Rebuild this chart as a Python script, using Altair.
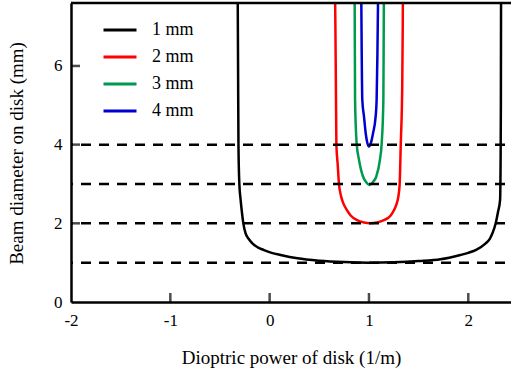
import altair as alt
import pandas as pd

# ---------------- data ----------------
series_names = ["1 mm", "2 mm", "3 mm", "4 mm"]
series_colors = ["#000000", "#ff0000", "#009a4e", "#0000d0"]

p_1mm = [-0.322, -0.318, -0.314, -0.305, -0.292, -0.28, -0.265, -0.242, -0.21, -0.174, -0.12, -0.057,
         0.02, 0.11, 0.28, 0.5, 0.75, 1.0, 1.25, 1.5, 1.72, 1.92, 2.0, 2.074, 2.175, 2.215, 2.243,
         2.276, 2.30, 2.32, 2.325, 2.328, 2.33]
d_1mm = [8.0, 6.0, 4.0, 3.0, 2.59, 2.3, 2.0, 1.746, 1.6, 1.49, 1.39, 1.32,
         1.25, 1.195, 1.11, 1.05, 1.015, 1.0, 1.01, 1.04, 1.085, 1.195, 1.25, 1.32, 1.49, 1.6, 1.746,
         2.0, 2.3, 2.59, 3.5, 5.0, 8.0]

p_2mm = [0.658, 0.662, 0.667, 0.672, 0.685, 0.698, 0.718, 0.743, 0.775, 0.816, 0.88, 0.95, 1.01,
         1.08, 1.15, 1.219, 1.255, 1.279, 1.297, 1.309, 1.32, 1.335, 1.34, 1.342]
d_2mm = [8.0, 7.0, 5.5, 4.0, 3.5, 3.0, 2.7, 2.5, 2.35, 2.2, 2.08, 2.02, 2.0,
         2.02, 2.08, 2.2, 2.35, 2.5, 2.7, 3.0, 4.0, 5.5, 7.0, 8.0]

p_3mm = [0.853, 0.856, 0.860, 0.876, 0.90, 0.94, 0.97, 1.005, 1.04, 1.074, 1.11, 1.128, 1.145, 1.150, 1.152]
d_3mm = [8.0, 7.6, 5.13, 4.03, 3.61, 3.19, 3.05, 2.975, 3.05, 3.19, 3.61, 4.03, 5.13, 7.6, 8.0]

p_4mm = [0.921, 0.923, 0.927, 0.933, 0.950, 0.967, 0.985, 1.0, 1.018, 1.041, 1.067, 1.077, 1.085, 1.091, 1.093]
d_4mm = [8.0, 7.6, 6.3, 5.13, 4.71, 4.29, 4.03, 3.95, 4.03, 4.29, 4.71, 5.13, 6.3, 7.6, 8.0]

dashed_levels = [1, 2, 3, 4]
x_ticks = [-2, -1, 0, 1, 2]
y_ticks = [0, 2, 4, 6]
x_domain = [-2, 2.43]
y_domain = [0, 7.6]

# ---------------- tables ----------------
rows = []
for name, ps, ds in zip(series_names, [p_1mm, p_2mm, p_3mm, p_4mm], [d_1mm, d_2mm, d_3mm, d_4mm]):
    for i, (p, d) in enumerate(zip(ps, ds)):
        rows.append({"series": name, "P": p, "D": d, "order": i})
curves = pd.DataFrame(rows)
levels = pd.DataFrame({"D": dashed_levels})
xt = pd.DataFrame({"P": [v for v in x_ticks if v > x_domain[0]]})
yt = pd.DataFrame({"D": [v for v in y_ticks if v > y_domain[0]]})
top = pd.DataFrame({"D": [y_domain[1]]})

FONT = "'Liberation Serif', 'Times New Roman', Times, serif"

xscale = alt.Scale(domain=x_domain, nice=False, zero=False)
yscale = alt.Scale(domain=y_domain, nice=False, zero=False)

x_axis = alt.Axis(values=x_ticks, labelExpr="'' + datum.value", labelPadding=10,
                  ticks=False, grid=False, domainColor="black", domainWidth=2.5,
                  labelFont=FONT, labelFontSize=17, labelColor="black", labelFlush=False,
                  title="Dioptric power of disk (1/m)",
                  titleFont=FONT, titleFontSize=19, titleFontWeight="normal", titleColor="black",
                  titleX=220, titleY=55, titleBaseline="middle", titleAlign="center", titleAngle=0)
y_axis = alt.Axis(values=y_ticks, labelExpr="'' + datum.value", labelPadding=9, labelBaseline="middle",
                  ticks=False, grid=False, domainColor="black", domainWidth=2.5,
                  labelFont=FONT, labelFontSize=17, labelColor="black", labelFlush=False,
                  title="Beam diameter on disk (mm)",
                  titleFont=FONT, titleFontSize=19, titleFontWeight="normal", titleColor="black",
                  titleAngle=270, titleX=-55, titleY=150, titleBaseline="middle", titleAlign="center")

lines = alt.Chart(curves).mark_line(strokeWidth=2.5, clip=True, interpolate="monotone").encode(
    x=alt.X("P:Q", scale=xscale, axis=x_axis),
    y=alt.Y("D:Q", scale=yscale, axis=y_axis),
    color=alt.Color("series:N", scale=alt.Scale(domain=series_names, range=series_colors),
                    legend=alt.Legend(orient="none", legendX=31, legendY=9, title=None,
                                      symbolType="stroke", symbolSize=1089, symbolStrokeWidth=3,
                                      labelFont=FONT, labelFontSize=18, labelColor="black",
                                      labelOffset=14, rowPadding=-2)),
    order="order:Q",
)

base_lines = alt.Chart(levels).mark_rule(color="black", strokeWidth=2.5, strokeDash=[10, 8],
                                         strokeDashOffset=-10).encode(
    y=alt.Y("D:Q"),
    x=alt.datum(x_domain[0]),
    x2=alt.datum(x_domain[1]),
)

top_line = alt.Chart(top).mark_rule(color="black", strokeWidth=2.5).encode(
    y=alt.Y("D:Q"),
    x=alt.datum(x_domain[0]),
    x2=alt.datum(x_domain[1]),
)

xticks = alt.Chart(xt).mark_tick(orient="vertical", color="black", thickness=2.5, size=9, yOffset=-4.5).encode(
    x=alt.X("P:Q"), y=alt.datum(0))
yticks = alt.Chart(yt).mark_tick(orient="horizontal", color="black", thickness=2.5, size=9, xOffset=4.5).encode(
    y=alt.Y("D:Q"), x=alt.datum(x_domain[0]))

chart = alt.layer(lines, base_lines, top_line, xticks, yticks).properties(
    width=440, height=299,
    autosize=alt.AutoSizeParams(type="none"),
    padding={"left": 71, "top": 3, "right": 0, "bottom": 70},
    background="white",
).configure_view(stroke=None).configure(font=FONT)

chart.save("out.html", embed_options={"renderer": "svg", "actions": False})
